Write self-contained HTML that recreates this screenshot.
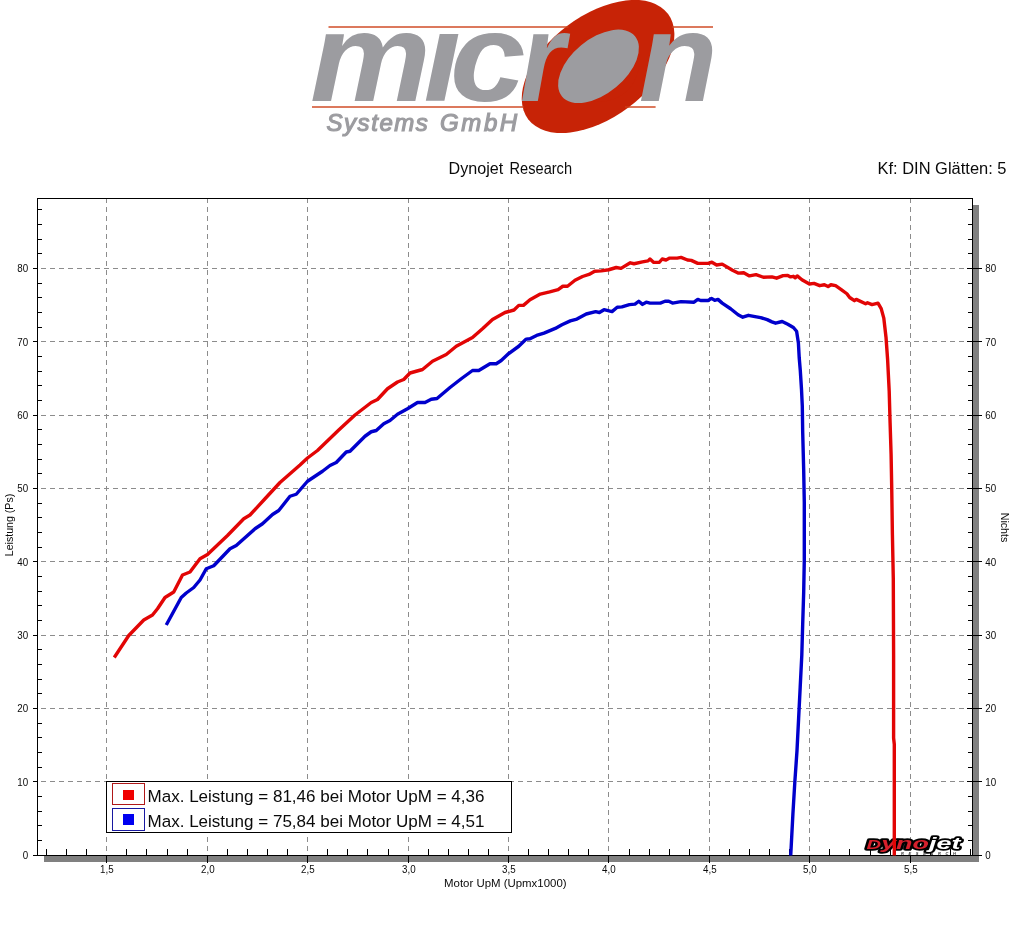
<!DOCTYPE html>
<html lang="de"><head><meta charset="utf-8"><title>Dynojet Research</title>
<style>
html,body{margin:0;padding:0;background:#fff;}
body{width:1024px;height:944px;overflow:hidden;font-family:"Liberation Sans",sans-serif;}
svg{display:block;}
.t{font-family:"Liberation Sans",sans-serif;fill:#0a0a0a;}
.s{font-size:11px;}
.b{font-size:16px;}
.l{font-size:16.3px;}
</style></head><body>
<svg width="1024" height="944" viewBox="0 0 1024 944">
<rect width="1024" height="944" fill="#fff"/>
<g id="logo">
<defs><clipPath id="cw"><rect x="250" y="28" width="450" height="80"/></clipPath></defs>
<ellipse cx="598.06" cy="66.5" rx="87.5" ry="51" transform="rotate(-37 598.06 66.5)" fill="#c72306"/>
<rect x="328.5" y="26.3" width="240" height="1.4" fill="#cd4019"/>
<rect x="672" y="26.3" width="41" height="1.4" fill="#cd4019"/>
<rect x="312" y="106.3" width="212" height="1.4" fill="#cd4019"/>
<rect x="625" y="106.3" width="30.6" height="1.4" fill="#cd4019"/>
<g transform="scale(1.07 1)" clip-path="url(#cw)"><text y="100.8" font-family="'Liberation Sans',sans-serif" font-weight="bold" font-style="italic" font-size="127" fill="#9c9ca0"><tspan x="289.77">m</tspan><tspan x="395.75">i</tspan><tspan x="420.65">c</tspan><tspan x="485.93" textLength="42" lengthAdjust="spacingAndGlyphs">r</tspan><tspan x="524.30" fill="#c72306">o</tspan><tspan x="596.87" textLength="73.7" lengthAdjust="spacingAndGlyphs">n</tspan></text></g>
<ellipse cx="598.5" cy="66.3" rx="47.3" ry="27.3" transform="rotate(-39.5 598.5 66.3)" fill="#9c9ca0"/>
<text x="326.5" y="131.2" font-family="'Liberation Sans',sans-serif" font-style="italic" font-size="24" fill="#9c9ca0" stroke="#9c9ca0" stroke-width="1.2"><tspan letter-spacing="1.55">Systems</tspan> <tspan dx="4" letter-spacing="2.6">GmbH</tspan></text>
</g>
<text class="t b" y="173.7"><tspan x="448.6" textLength="54.6" lengthAdjust="spacingAndGlyphs">Dynojet</tspan> <tspan x="509.6" textLength="62.4" lengthAdjust="spacingAndGlyphs">Research</tspan></text>
<text class="t b" x="877.5" y="173.7" textLength="129" lengthAdjust="spacingAndGlyphs">Kf: DIN Glätten: 5</text>
<g shape-rendering="crispEdges">
<rect x="973" y="205" width="6" height="657" fill="#808080"/>
<rect x="44" y="856" width="935" height="6" fill="#808080"/>
<g stroke="#8c8c8c" stroke-width="1" stroke-dasharray="5 4" fill="none">
<path d="M41 781.5H972"/><path d="M41 708.5H972"/><path d="M41 635.5H972"/><path d="M41 561.5H972"/><path d="M41 488.5H972"/><path d="M41 415.5H972"/><path d="M41 341.5H972"/><path d="M41 268.5H972"/><path d="M106.5 198V855"/><path d="M207.5 198V855"/><path d="M307.5 198V855"/><path d="M408.5 198V855"/><path d="M508.5 198V855"/><path d="M608.5 198V855"/><path d="M709.5 198V855"/><path d="M809.5 198V855"/><path d="M910.5 198V855"/>
</g>
<rect x="37.5" y="198.5" width="935" height="657" fill="none" stroke="#000" stroke-width="1"/>
<g stroke="#000" stroke-width="1" fill="none">
<path d="M33 855.5H38"/><path d="M967 855.5H982"/><path d="M38 840.5H42"/><path d="M968 840.5H972"/><path d="M38 825.5H42"/><path d="M968 825.5H972"/><path d="M38 811.5H42"/><path d="M968 811.5H972"/><path d="M38 796.5H42"/><path d="M968 796.5H972"/><path d="M33 781.5H38"/><path d="M967 781.5H982"/><path d="M38 767.5H42"/><path d="M968 767.5H972"/><path d="M38 752.5H42"/><path d="M968 752.5H972"/><path d="M38 737.5H42"/><path d="M968 737.5H972"/><path d="M38 723.5H42"/><path d="M968 723.5H972"/><path d="M33 708.5H38"/><path d="M967 708.5H982"/><path d="M38 693.5H42"/><path d="M968 693.5H972"/><path d="M38 679.5H42"/><path d="M968 679.5H972"/><path d="M38 664.5H42"/><path d="M968 664.5H972"/><path d="M38 649.5H42"/><path d="M968 649.5H972"/><path d="M33 635.5H38"/><path d="M967 635.5H982"/><path d="M38 620.5H42"/><path d="M968 620.5H972"/><path d="M38 605.5H42"/><path d="M968 605.5H972"/><path d="M38 591.5H42"/><path d="M968 591.5H972"/><path d="M38 576.5H42"/><path d="M968 576.5H972"/><path d="M33 561.5H38"/><path d="M967 561.5H982"/><path d="M38 547.5H42"/><path d="M968 547.5H972"/><path d="M38 532.5H42"/><path d="M968 532.5H972"/><path d="M38 517.5H42"/><path d="M968 517.5H972"/><path d="M38 503.5H42"/><path d="M968 503.5H972"/><path d="M33 488.5H38"/><path d="M967 488.5H982"/><path d="M38 473.5H42"/><path d="M968 473.5H972"/><path d="M38 459.5H42"/><path d="M968 459.5H972"/><path d="M38 444.5H42"/><path d="M968 444.5H972"/><path d="M38 429.5H42"/><path d="M968 429.5H972"/><path d="M33 415.5H38"/><path d="M967 415.5H982"/><path d="M38 400.5H42"/><path d="M968 400.5H972"/><path d="M38 385.5H42"/><path d="M968 385.5H972"/><path d="M38 371.5H42"/><path d="M968 371.5H972"/><path d="M38 356.5H42"/><path d="M968 356.5H972"/><path d="M33 341.5H38"/><path d="M967 341.5H982"/><path d="M38 327.5H42"/><path d="M968 327.5H972"/><path d="M38 312.5H42"/><path d="M968 312.5H972"/><path d="M38 297.5H42"/><path d="M968 297.5H972"/><path d="M38 283.5H42"/><path d="M968 283.5H972"/><path d="M33 268.5H38"/><path d="M967 268.5H982"/><path d="M38 253.5H42"/><path d="M968 253.5H972"/><path d="M38 239.5H42"/><path d="M968 239.5H972"/><path d="M38 224.5H42"/><path d="M968 224.5H972"/><path d="M38 209.5H42"/><path d="M968 209.5H972"/><path d="M46.5 849V855"/><path d="M66.5 849V855"/><path d="M86.5 849V855"/><path d="M106.5 856V863"/><path d="M126.5 849V855"/><path d="M146.5 849V855"/><path d="M167.5 849V855"/><path d="M187.5 849V855"/><path d="M207.5 856V863"/><path d="M227.5 849V855"/><path d="M247.5 849V855"/><path d="M267.5 849V855"/><path d="M287.5 849V855"/><path d="M307.5 856V863"/><path d="M327.5 849V855"/><path d="M347.5 849V855"/><path d="M367.5 849V855"/><path d="M388.5 849V855"/><path d="M408.5 856V863"/><path d="M428.5 849V855"/><path d="M448.5 849V855"/><path d="M468.5 849V855"/><path d="M488.5 849V855"/><path d="M508.5 856V863"/><path d="M528.5 849V855"/><path d="M548.5 849V855"/><path d="M568.5 849V855"/><path d="M588.5 849V855"/><path d="M608.5 856V863"/><path d="M629.5 849V855"/><path d="M649.5 849V855"/><path d="M669.5 849V855"/><path d="M689.5 849V855"/><path d="M709.5 856V863"/><path d="M729.5 849V855"/><path d="M749.5 849V855"/><path d="M769.5 849V855"/><path d="M789.5 849V855"/><path d="M809.5 856V863"/><path d="M829.5 849V855"/><path d="M849.5 849V855"/><path d="M870.5 849V855"/><path d="M890.5 849V855"/><path d="M910.5 856V863"/><path d="M930.5 849V855"/><path d="M950.5 849V855"/><path d="M970.5 849V855"/>
</g>
</g>
<text class="t s" transform="translate(28.2 858.8) scale(0.89 1)" text-anchor="end">0</text><text class="t s" transform="translate(985.3 858.8) scale(0.89 1)" text-anchor="start">0</text><text class="t s" transform="translate(28.2 785.5) scale(0.89 1)" text-anchor="end">10</text><text class="t s" transform="translate(985.3 785.5) scale(0.89 1)" text-anchor="start">10</text><text class="t s" transform="translate(28.2 712.1) scale(0.89 1)" text-anchor="end">20</text><text class="t s" transform="translate(985.3 712.1) scale(0.89 1)" text-anchor="start">20</text><text class="t s" transform="translate(28.2 638.8) scale(0.89 1)" text-anchor="end">30</text><text class="t s" transform="translate(985.3 638.8) scale(0.89 1)" text-anchor="start">30</text><text class="t s" transform="translate(28.2 565.5) scale(0.89 1)" text-anchor="end">40</text><text class="t s" transform="translate(985.3 565.5) scale(0.89 1)" text-anchor="start">40</text><text class="t s" transform="translate(28.2 492.1) scale(0.89 1)" text-anchor="end">50</text><text class="t s" transform="translate(985.3 492.1) scale(0.89 1)" text-anchor="start">50</text><text class="t s" transform="translate(28.2 418.8) scale(0.89 1)" text-anchor="end">60</text><text class="t s" transform="translate(985.3 418.8) scale(0.89 1)" text-anchor="start">60</text><text class="t s" transform="translate(28.2 345.5) scale(0.89 1)" text-anchor="end">70</text><text class="t s" transform="translate(985.3 345.5) scale(0.89 1)" text-anchor="start">70</text><text class="t s" transform="translate(28.2 272.1) scale(0.89 1)" text-anchor="end">80</text><text class="t s" transform="translate(985.3 272.1) scale(0.89 1)" text-anchor="start">80</text>
<text class="t s" transform="translate(106.9 873.0) scale(0.89 1)" text-anchor="middle">1,5</text><text class="t s" transform="translate(207.9 873.0) scale(0.89 1)" text-anchor="middle">2,0</text><text class="t s" transform="translate(307.9 873.0) scale(0.89 1)" text-anchor="middle">2,5</text><text class="t s" transform="translate(408.9 873.0) scale(0.89 1)" text-anchor="middle">3,0</text><text class="t s" transform="translate(508.9 873.0) scale(0.89 1)" text-anchor="middle">3,5</text><text class="t s" transform="translate(608.9 873.0) scale(0.89 1)" text-anchor="middle">4,0</text><text class="t s" transform="translate(709.9 873.0) scale(0.89 1)" text-anchor="middle">4,5</text><text class="t s" transform="translate(809.9 873.0) scale(0.89 1)" text-anchor="middle">5,0</text><text class="t s" transform="translate(910.9 873.0) scale(0.89 1)" text-anchor="middle">5,5</text>
<text class="t s" x="505.3" y="887.4" text-anchor="middle" textLength="122.5" lengthAdjust="spacingAndGlyphs">Motor UpM (Upmx1000)</text>
<text class="t s" transform="translate(13.3 525) rotate(-90)" text-anchor="middle" textLength="62.5" lengthAdjust="spacingAndGlyphs">Leistung (Ps)</text>
<text class="t s" transform="translate(1001.2 527.5) rotate(90)" text-anchor="middle" textLength="29.5" lengthAdjust="spacingAndGlyphs">Nichts</text>
<g shape-rendering="crispEdges">
<rect x="106.5" y="781.5" width="405" height="51" fill="#fff" stroke="#000"/>
<rect x="112.5" y="783.5" width="32" height="21" fill="#fff" stroke="#b01818"/>
<rect x="112.5" y="808.5" width="32" height="22" fill="#fff" stroke="#1818a0"/>
<rect x="123" y="790" width="11" height="10" fill="#f00000"/>
<rect x="123" y="814" width="11" height="11" fill="#0000f0"/>
</g>
<text class="t l" x="147.5" y="802" textLength="337" lengthAdjust="spacingAndGlyphs">Max. Leistung = 81,46 bei Motor UpM = 4,36</text>
<text class="t l" x="147.5" y="827" textLength="337" lengthAdjust="spacingAndGlyphs">Max. Leistung = 75,84 bei Motor UpM = 4,51</text>
<g id="dj" font-family="'Liberation Sans',sans-serif" font-weight="bold" font-style="italic">
<text x="866.5" y="848.6" font-size="17" stroke="#000" stroke-width="3.4" stroke-linejoin="round" paint-order="stroke" textLength="94" lengthAdjust="spacingAndGlyphs"><tspan fill="#d6202c"><tspan font-size="12.8">D</tspan>yno</tspan><tspan fill="#fff">jet</tspan></text>
<text x="901" y="855" font-size="4" fill="#333" textLength="55" lengthAdjust="spacing">RESEARCH</text>
</g>
<defs><clipPath id="pc"><rect x="38" y="199" width="934" height="656.5"/></clipPath></defs>
<g clip-path="url(#pc)" fill="none" stroke-width="3.4" stroke-linejoin="round" stroke-linecap="butt">
<polyline stroke="#0000cc" points="166.25,625 181.25,597.5 186.25,593 193.75,587.5 200,580 206.25,568.75 213.75,565.75 230,548.75 236.25,545.5 255,528.75 262.5,523.75 272.5,514.5 278.75,510.5 290,496.25 296.25,494.25 307.5,481.25 322.5,471.25 330,465.5 336.25,462.5 346.25,452 350,451.25 365,436.25 371.25,431.75 376.25,430.5 383.75,423.75 390,420.5 397.5,414.25 407.5,408.75 417.5,402.5 425,402.5 431.25,399.25 437,398.5 450,387.5 461.25,378.75 472.5,370.5 478.75,370.5 490,363.75 496.25,363.75 501.25,360.5 508.4,353.75 518.75,346.25 526.25,339.1 530,338.75 536.6,335.4 544,333.1 555.3,328.4 561.9,324.7 570.3,320.9 576.9,319.1 586.25,314 595.6,311.6 599.4,312.5 604,309.7 612,311.6 617.2,307.25 621.9,306.9 629.4,304.6 635,304.1 638.75,301.25 642.5,304.4 646.25,302.2 650,303.1 660.3,303.1 665,301.25 668.75,301.25 672.5,303.1 681,301.6 694,302.2 697.8,299.4 700.6,300.5 708.1,300.5 711.5,298.4 714.7,300.3 718,299.4 722.2,303.1 730.6,308.75 738.1,314.75 742.8,317.2 748.4,315.3 755,316.6 760.6,317.6 767.2,319.6 771.9,321.9 775.6,323.2 782.2,321.5 787.8,324.3 793.4,327.5 796.6,331.25 798.4,343 799.2,357.5 800.3,370.6 801.5,389.4 802.3,406.25 802.7,432.5 803.7,470.7 804.3,502.5 804.3,560 803.7,591.8 802.7,623.6 801.8,655.3 800.2,687.1 798.6,718.9 797,750.7 794.8,782.5 792.9,814.2 790.7,856"/>
<polyline stroke="#e20505" points="114.25,657.5 128.75,635.5 143.75,620 152.5,615 157.5,608.75 165,597.5 173.75,592 182.5,575 190,572 200,558.75 207.5,554.5 227.5,535.5 243.75,518.75 250,515 265,498.75 280,482.5 300,465 307.5,458 317.5,450.5 338.75,430 355,415 371.25,402.5 377.5,399.5 387.5,388.75 397.5,382 403.75,379.5 410,373 422.5,369.5 432.5,361.25 446.25,354.5 456.25,346.25 472.5,337.5 482.5,328.75 492.5,319.5 505,312.5 514,310 518.75,305.4 523.4,305.4 530,299.75 540.3,294.1 549.7,291.9 558.1,289.6 562.8,286.25 567.5,286.25 575,280.25 582.5,276.5 589,274.4 594.7,271.25 601.25,270.9 608.75,269.75 616.25,267.5 621,268.4 630.3,262.8 634,263.75 642.5,261.9 648.1,260.9 650,259 653.75,262.4 659.4,262.25 662.2,259 666,260 669.7,258.1 677.2,258.1 681,257.4 687.5,260 691.25,260.4 697.8,263.4 708.1,263.4 711.9,262.25 716.6,265 722.2,264.1 732.5,270.3 738.1,273.1 743.75,272.75 749.4,275.9 756,274.6 763.4,277.25 771.9,276.9 776.6,278.2 783.1,275.6 787.8,275.4 790.6,276.9 793.4,276.3 795.3,277.8 797.2,275.9 801.9,279.7 809.4,284 814,283.4 819.7,285.7 824.4,284.75 828.1,286.6 830.9,284.75 835.6,285.7 841.25,289.6 846.9,293.75 849.7,297.5 854.4,300.7 856.25,299.4 865.6,303.7 867.5,302.75 872,304.6 878,303.2 881.2,308.6 883.8,318.1 886,337.2 887.6,359.4 889.2,391.2 890.1,423 891.1,454.8 891.7,486.6 892.4,534.2 893.3,578.7 893.6,655.3 893.6,738 894.3,744.3 894.3,856"/>
</g>
</svg>
</body></html>
